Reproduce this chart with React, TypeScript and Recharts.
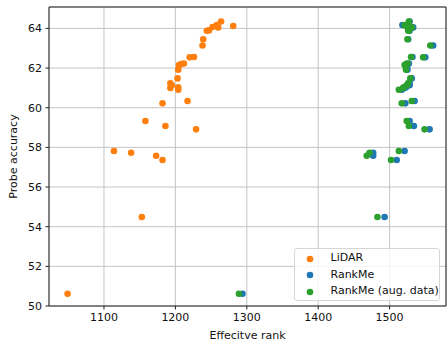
import React from 'react';
import { ScatterChart, Scatter, XAxis, YAxis, CartesianGrid, Legend, ReferenceLine, Label } from 'recharts';

const probeAccuracy = [
  57.82, 57.73, 57.58, 57.36, 59.33, 59.08, 58.91, 60.22, 60.34, 61.23,
  61.0, 61.13, 61.03, 60.91, 61.48, 61.92, 62.15, 62.2, 62.23, 62.54,
  62.56, 63.14, 63.45, 63.88, 63.9, 64.07, 64.17, 64.05, 64.35, 64.12,
  54.49, 50.62,
];
const lidarRank = [
  1114, 1138, 1173, 1182, 1158, 1186, 1229, 1182, 1217, 1193,
  1193, 1195, 1204, 1204, 1203, 1204, 1205, 1208, 1212, 1220,
  1226, 1238, 1239, 1244, 1247, 1252, 1258, 1260, 1264, 1281,
  1153, 1049,
];
const rankmeRank = [
  1521, 1477, 1477, 1510, 1528, 1534, 1556, 1522, 1535, 1528,
  1521, 1528, 1523, 1517, 1531, 1525, 1524, 1526, 1527, 1550,
  1532, 1561, 1526, 1528, 1527, 1530, 1518, 1533, 1528, 1525,
  1493, 1294,
];
const rankmeAugRank = [
  1513, 1472, 1468, 1502, 1524, 1527, 1549, 1517, 1531, 1526,
  1519, 1524, 1520, 1513, 1529, 1523, 1521, 1523, 1525, 1547,
  1530, 1557, 1525, 1527, 1526, 1528, 1521, 1531, 1527, 1523,
  1483, 1289,
];
const seriesNames = ['LiDAR', 'RankMe', 'RankMe (aug. data)'];
const seriesColors = ['#ff7f0e', '#1f77b4', '#2ca02c'];
const xTicks = [1100, 1200, 1300, 1400, 1500];
const yTicks = [50, 52, 54, 56, 58, 60, 62, 64];
const xDomain = [1023, 1579];
const yDomain = [50, 65.08];

const toPoints = (xs: number[]) => xs.map((x, i) => ({ x, y: probeAccuracy[i] }));

const FONT = '"DejaVu Sans", sans-serif';

const makeDot = (color: string) => (props: any) => (
  <circle cx={props.cx} cy={props.cy} r={3.3} fill={color} />
);

const renderLegend = (props: any) => {
  const payload = props.payload || [];
  return (
    <div
      style={{
        boxSizing: 'border-box',
        width: 146,
        height: 53,
        border: '1px solid #d6d6d6',
        borderRadius: 3,
        background: 'rgba(255,255,255,0.8)',
        paddingTop: 1,
        fontFamily: FONT,
        fontSize: 11,
        color: '#111',
      }}
    >
      {payload.map((p: any, i: number) => (
        <div key={i} style={{ position: 'relative', height: 16.5, lineHeight: '16.5px' }}>
          <svg width={10} height={10} style={{ position: 'absolute', left: 10, top: 3.5 }}>
            <circle cx={5} cy={5} r={3.3} fill={p.color} />
          </svg>
          <span style={{ position: 'absolute', left: 35.5, top: 0, whiteSpace: 'nowrap' }}>{p.value}</span>
        </div>
      ))}
    </div>
  );
};

const yLabel = (props: any) => {
  const vb = props.viewBox || { x: 0, y: 0, width: 49, height: 299 };
  const cx = vb.x + 17;
  const cy = vb.y + vb.height / 2;
  return (
    <text
      x={cx}
      y={cy}
      transform={`rotate(-90 ${cx} ${cy})`}
      textAnchor="middle"
      fontFamily={FONT}
      fontSize={11}
      fill="#111"
    >
      Probe accuracy
    </text>
  );
};

export default function App() {
  const series = [lidarRank, rankmeRank, rankmeAugRank];
  return (
    <div style={{ position: 'absolute', left: 0, top: 0, width: 447, height: 344, background: '#fff' }}>
      <ScatterChart width={447} height={344} margin={{ top: 7, right: 1, bottom: 0, left: 0 }}>
        <CartesianGrid stroke="#c4c4c4" strokeWidth={1} />
        <XAxis
          type="number"
          dataKey="x"
          domain={xDomain}
          ticks={xTicks}
          allowDataOverflow
          height={38}
          tickSize={3.5}
          tickMargin={3.5}
          stroke="#222"
          tick={{ fill: '#111', fontSize: 11, fontFamily: FONT }}
          tickLine={{ stroke: '#222' }}
          axisLine={{ stroke: '#222' }}
        >
          <Label
            value="Effecitve rank"
            position="insideBottom"
            offset={5}
            style={{ fontFamily: FONT, fontSize: 11, fill: '#111' }}
          />
        </XAxis>
        <YAxis
          type="number"
          dataKey="y"
          domain={yDomain}
          ticks={yTicks}
          allowDataOverflow
          width={49}
          tickSize={3.5}
          tickMargin={3.5}
          stroke="#222"
          tick={{ fill: '#111', fontSize: 11, fontFamily: FONT }}
          tickLine={{ stroke: '#222' }}
          axisLine={{ stroke: '#222' }}
        >
          <Label content={yLabel} />
        </YAxis>
        <ReferenceLine y={yDomain[1]} stroke="#222" strokeWidth={1} />
        <ReferenceLine x={xDomain[1]} stroke="#222" strokeWidth={1} />
        {series.map((xs, i) => (
          <Scatter
            key={seriesNames[i]}
            name={seriesNames[i]}
            data={toPoints(xs)}
            fill={seriesColors[i]}
            shape={makeDot(seriesColors[i])}
            isAnimationActive={false}
          />
        ))}
        <Legend
          layout="horizontal"
          verticalAlign="middle"
          align="center"
          width={146}
          content={renderLegend}
          wrapperStyle={{ position: 'absolute', left: 294, top: 248, width: 146, height: 53 }}
        />
      </ScatterChart>
    </div>
  );
}
